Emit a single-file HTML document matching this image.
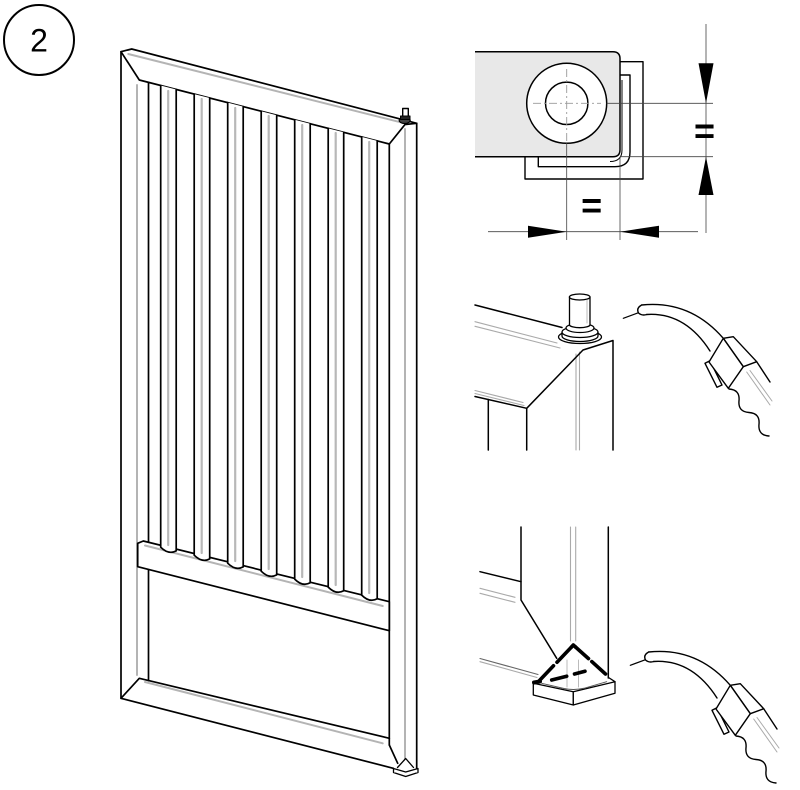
<!DOCTYPE html>
<html><head><meta charset="utf-8"><style>
html,body{margin:0;padding:0;background:#fff;}
svg{display:block;}
</style></head><body>
<svg width="800" height="790" viewBox="0 0 800 790" xmlns="http://www.w3.org/2000/svg">
<rect width="800" height="790" fill="#fff"/>

<!-- step badge -->
<circle cx="39" cy="40" r="35" fill="none" stroke="#000" stroke-width="2"/>
<text x="39" y="51.5" font-family="Liberation Sans, sans-serif" font-size="32" text-anchor="middle" fill="#000">2</text>

<!-- ================= MAIN RADIATOR ================= -->
<g fill="none" stroke-linecap="round" stroke-linejoin="round">
  <g stroke="#b4b4b4" stroke-width="2">
    <line x1="128.3" y1="54" x2="398.3" y2="121.7"/>
    <line x1="137" y1="85" x2="137" y2="675"/>
    <line x1="405" y1="129" x2="405" y2="763"/>
    <line x1="145" y1="682" x2="382.7" y2="743.3"/>
  </g>
  <g stroke="#000" stroke-width="1.7">
    <path d="M416.7,123.3 L131.7,49 L121,51.7 L121,698.3 L393.3,768.3"/>
    <path d="M121,51.7 L139.3,80 L389.3,144 L405,124.5 L416.7,123.3"/>
    <line x1="416.7" y1="123.3" x2="416.7" y2="768.5"/>
    <line x1="389.3" y1="144" x2="389.3" y2="745"/>
    <path d="M389.3,745 L397.7,763.3"/>
    <path d="M121,698.3 L139.3,678.3 L389.3,738.3"/>
    <line x1="148.5" y1="82.3" x2="148.5" y2="680.5"/>
  </g>
  <!-- middle rail -->
  <path d="M137.7,543.3 L143.3,541 L389.3,601.7 L389.3,630.7 L137.7,566.7 Z" fill="#fff" stroke="#000" stroke-width="1.7"/>
  <line x1="145" y1="545.5" x2="382.7" y2="606" stroke="#b4b4b4" stroke-width="2"/>
  <!-- tubes -->
  <g fill="#fff" stroke="#000" stroke-width="1.7">
    <path d="M160.7,85.5 V547.2 Q168.45,555 176.2,550.9 V89.5"/>
    <path d="M194.2,94.1 V555.2 Q201.95,563 209.7,558.9 V98.0"/>
    <path d="M227.7,102.6 V563.2 Q235.45,571 243.2,566.9 V106.6"/>
    <path d="M261.2,111.2 V571.2 Q268.95,579 276.7,574.9 V115.2"/>
    <path d="M294.7,119.8 V579.1 Q302.45,587 310.2,582.8 V123.7"/>
    <path d="M328.2,128.4 V587.1 Q335.95,595 343.7,590.8 V132.3"/>
    <path d="M361.7,136.9 V595.1 Q369.45,603 377.2,598.8 V140.9"/>
  </g>
  <g stroke="#b8b8b8" stroke-width="2.2">
    <line x1="168.2" y1="91" x2="168.2" y2="545"/>
    <line x1="201.7" y1="99" x2="201.7" y2="553"/>
    <line x1="235.2" y1="108" x2="235.2" y2="561"/>
    <line x1="268.7" y1="116" x2="268.7" y2="569"/>
    <line x1="302.2" y1="125" x2="302.2" y2="577"/>
    <line x1="335.7" y1="133" x2="335.7" y2="585"/>
    <line x1="369.2" y1="142" x2="369.2" y2="593"/>
  </g>
  <!-- valve on top -->
  <ellipse cx="404.7" cy="120.5" rx="5.5" ry="3" fill="#444" stroke="#000" stroke-width="1.2"/>
  <rect x="402.7" y="108.5" width="5.6" height="9" fill="#fff" stroke="#000" stroke-width="1.4"/>
  <rect x="400.5" y="116" width="9.5" height="3.5" fill="#222" stroke="#000" stroke-width="1"/>
  <!-- foot -->
  <path d="M393.5,768.5 L405.7,772 L418,768.5 L418,772.5 L405.7,776.5 L393.5,772.5 Z" fill="#fff" stroke="#000" stroke-width="1.3"/>
  <path d="M397.5,767.5 L405.7,758.5 L413.5,767.5" fill="#fff" stroke="#000" stroke-width="1.3"/>
</g>

<!-- ================= TOP-RIGHT DIMENSION DETAIL ================= -->
<g fill="none" stroke-linejoin="round">
  <path d="M620,61.7 H643 V179 H525 V156.7" stroke="#000" stroke-width="1.4"/>
  <path d="M620,75 H630 V152 Q630,166.7 615,166.7 H538.3 V156.7" stroke="#000" stroke-width="1.4"/>
  <path d="M622,80 V150 Q622,161.5 610,161.5" stroke="#000" stroke-width="1"/>
  <path d="M475,51.7 H613 Q620,51.7 620,58.7 V149.7 Q620,156.7 613,156.7 H475" fill="#e8e8e8" stroke="#000" stroke-width="1.5"/>
  <circle cx="566.7" cy="103.3" r="40" fill="#fff" stroke="#000" stroke-width="1.5"/>
  <circle cx="566.7" cy="103.3" r="21.2" fill="#fff" stroke="#000" stroke-width="1.5"/>
  <g stroke="#999" stroke-width="0.9" stroke-dasharray="8 3 2 3">
    <line x1="533" y1="103.3" x2="601" y2="103.3"/>
    <line x1="566.7" y1="69" x2="566.7" y2="142"/>
  </g>
  <g stroke="#444" stroke-width="0.8">
    <line x1="606.7" y1="103.3" x2="713" y2="103.3"/>
    <line x1="620" y1="156.7" x2="713" y2="156.7"/>
    <line x1="566.7" y1="143" x2="566.7" y2="240"/>
    <line x1="620" y1="157" x2="620" y2="240"/>
    <line x1="706" y1="24" x2="706" y2="233"/>
    <line x1="488" y1="231.7" x2="698" y2="231.7"/>
  </g>
  <g fill="#000" stroke="none">
    <polygon points="706,103.3 698.5,63.3 713.5,63.3"/>
    <polygon points="706,156.7 698.5,195 713.5,195"/>
    <polygon points="566.7,231.7 528,225.7 528,237.7"/>
    <polygon points="620,231.7 659,225.7 659,237.7"/>
  </g>
</g>
<text x="704.5" y="143" font-family="Liberation Sans, sans-serif" font-size="36" font-weight="bold" text-anchor="middle" fill="#000">=</text>
<text x="591.7" y="217.5" font-family="Liberation Sans, sans-serif" font-size="36" font-weight="bold" text-anchor="middle" fill="#000">=</text>

<!-- ================= MIDDLE-RIGHT: TOP CORNER DETAIL ================= -->
<g fill="none" stroke-linecap="round" stroke-linejoin="round">
  <g stroke="#aaa" stroke-width="1.1">
    <line x1="475" y1="321.7" x2="557" y2="343"/>
    <line x1="475" y1="326.3" x2="560" y2="348"/>
    <line x1="475" y1="390.5" x2="523" y2="402.5"/>
    <line x1="475" y1="393.5" x2="524" y2="405.5"/>
    <line x1="576" y1="354" x2="576" y2="450"/>
    <line x1="579.5" y1="352" x2="579.5" y2="450"/>
  </g>
  <g stroke="#000" stroke-width="1.5">
    <line x1="475" y1="305" x2="562" y2="327.5"/>
    <path d="M526.7,450 V408.3 L583,350 L613,340.5 V450"/>
    <line x1="475" y1="396.5" x2="526.7" y2="408.3"/>
    <line x1="488.3" y1="399.5" x2="488.3" y2="450"/>
  </g>
  <ellipse cx="580" cy="337" rx="21.5" ry="6.5" fill="#fff" stroke="#000" stroke-width="1.3"/>
  <path d="M562,332 V336 A18,5.5 0 0 0 598,336 V332" fill="#fff" stroke="#000" stroke-width="1.3"/>
  <ellipse cx="580" cy="332" rx="18" ry="5.5" fill="#fff" stroke="#000" stroke-width="1.3"/>
  <ellipse cx="580" cy="328" rx="14" ry="4.5" fill="#fff" stroke="#000" stroke-width="1.3"/>
  <path d="M569.5,297 V325 A10.3,3 0 0 0 590,325 V297" fill="#fff" stroke="#000" stroke-width="1.3"/>
  <ellipse cx="579.7" cy="297" rx="10.3" ry="3" fill="#fff" stroke="#000" stroke-width="1.3"/>
  <line x1="587" y1="300" x2="587" y2="323" stroke="#bbb" stroke-width="1"/>
</g>

<!-- ================= TORCH (top) ================= -->
<g id="torch" fill="none" stroke="#000" stroke-width="1.4" stroke-linecap="round" stroke-linejoin="round">
  <line x1="623.3" y1="318.3" x2="638.5" y2="312.7" stroke-width="1.2"/>
  <path d="M641.7,305 Q690,300 723.3,338.3"/>
  <path d="M646.7,314.5 Q685,312 710,351"/>
  <path d="M641.7,305 Q636,308 638.5,313 Q642,316 646.7,314.5" fill="#fff"/>
  <path d="M705,363.3 L710,360.7 L722,385 L717,387.3 Z" fill="#fff"/>
  <path d="M723.3,338.3 L733.3,336.7 L756.7,361.7 L743.3,366.7 Z" fill="#fff"/>
  <path d="M723.3,338.3 L743.3,366.7 L728.3,388.3 L709,362 Z" fill="#fff"/>
  <line x1="756.7" y1="361.7" x2="770" y2="382"/>
  <g stroke="#aaa" stroke-width="1">
    <line x1="746.7" y1="372" x2="770" y2="405"/>
    <line x1="750" y1="370.5" x2="772" y2="401"/>
  </g>
  <path d="M729,389 Q740.1,389.7 739,400.75 T749,412.5 T759,424.25 T769,436"/>
</g>

<!-- ================= BOTTOM-RIGHT: BOTTOM CORNER DETAIL ================= -->
<g fill="none" stroke-linecap="round" stroke-linejoin="round">
  <g stroke="#aaa" stroke-width="1.1">
    <line x1="480" y1="588.3" x2="515" y2="597.3"/>
    <line x1="480" y1="593.3" x2="515" y2="602.3"/>
    <line x1="570.5" y1="527" x2="570.5" y2="641"/>
    <line x1="575.7" y1="527" x2="575.7" y2="641"/>
    <line x1="480" y1="661.7" x2="537" y2="677.5"/>
  </g>
  <line x1="480" y1="658.5" x2="538" y2="674.5" stroke="#666" stroke-width="1.1"/>
  <g stroke="#000" stroke-width="1.5">
    <path d="M521,527 V600 L556.7,658.3"/>
    <line x1="480" y1="571.7" x2="521" y2="581.7"/>
    <line x1="608.3" y1="527" x2="608.3" y2="678"/>
  </g>
  <path d="M533.3,683.3 L573.3,691.7 L573.3,705 L533.3,695 Z" fill="#fff" stroke="#000" stroke-width="1.3"/>
  <path d="M573.3,691.7 L615,681.7 L615,693.3 L573.3,705 Z" fill="#fff" stroke="#000" stroke-width="1.3"/>
  <path d="M533.3,683.3 L541,679 M615,681.7 L608.5,677.5" stroke="#000" stroke-width="1.3"/>
  <path d="M541.7,683.3 L564,688.5 Q574,690.5 584,688.3 L606.7,681.7" stroke="#555" stroke-width="1"/>
  <g stroke="#bbb" stroke-width="1">
    <line x1="567" y1="660" x2="567" y2="687"/>
    <line x1="578.5" y1="660" x2="578.5" y2="687"/>
  </g>
  <!-- weld -->
  <g stroke="#000" stroke-width="3.6">
    <line x1="539.5" y1="680.5" x2="553.5" y2="665.8"/>
    <line x1="557" y1="662.2" x2="571.5" y2="647"/>
    <path d="M571.5,647 L573.3,645 L575.5,647"/>
    <line x1="575.5" y1="647" x2="588.5" y2="658.6"/>
    <line x1="591.8" y1="661.6" x2="605.5" y2="674"/>
    <line x1="551.7" y1="680" x2="566.7" y2="676.2"/>
    <line x1="574.5" y1="674" x2="585" y2="671.2"/>
  </g>
  <path d="M534,682.5 L540,681.5" stroke="#000" stroke-width="4"/>
</g>

<!-- ================= TORCH (bottom) ================= -->
<use href="#torch" transform="translate(7,347)"/>

</svg>
</body></html>
